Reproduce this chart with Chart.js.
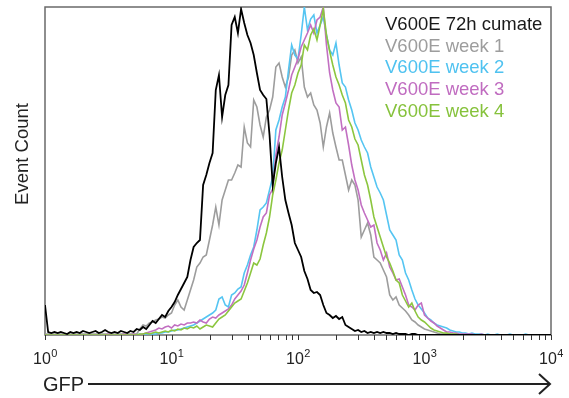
<!DOCTYPE html>
<html>
<head>
<meta charset="utf-8">
<script src="https://cdn.jsdelivr.net/npm/chart.js@4/dist/chart.umd.min.js"></script>
<style>
  html, body { margin: 0; padding: 0; background: #ffffff; }
  #wrap { width: 569px; height: 398px; }
</style>
</head>
<body>
<div id="wrap"><canvas id="c" width="569" height="398"></canvas></div>
<script>
// Histogram bins: log10(GFP) of first bin and bin width (in decades)
const binStartLog = 0;
const binWidthLog = 0.025;

const seriesNames = ['V600E 72h cumate', 'V600E week 1', 'V600E week 2', 'V600E week 3', 'V600E week 4'];
const seriesColors = ['#000000', '#9d9d9d', '#55c5f2', '#c26fc2', '#8cc63f'];
const legendColors = ['#1a1a1a', '#9d9d9d', '#4fc2f0', '#c06cc0', '#86c23c'];

const cumate72h = [
  30,3,2,3,2,3,2,1,3,2,
  3,2,4,3,2,3,4,2,3,5,
  3,2,3,2,4,3,2,4,3,6,
  5,8,6,10,14,12,16,20,18,24,
  28,33,40,46,52,58,75,88,92,95,
  150,160,172,182,245,260,218,240,250,310,
  318,302,326,312,300,292,280,262,245,240,
  236,200,150,172,188,158,135,122,110,92,
  85,78,64,56,45,42,43,40,30,22,
  20,17,19,16,18,10,8,6,4,5,
  3,4,2,3,2,3,2,3,2,2,
  1,2,1,1,1,0,1,1,0,0,
  0,0,0,0,0,0,0,0,0,0,
  0,0,0,0,0,0,0,0,0,0,
  0,0,0,0,0,0,0,0,0,0,
  0,0,0,0,0,0,0,0,0,0,
  0
];
const week1 = [
  1,1,1,1,1,1,1,1,1,1,
  1,1,1,1,1,1,1,1,1,1,
  1,1,1,1,1,1,1,1,1,1,
  6,10,9,12,13,15,16,18,17,20,
  22,30,35,28,25,35,45,55,68,72,
  78,80,95,110,128,110,135,145,155,155,
  162,170,168,208,192,188,235,228,210,198,
  218,225,238,268,272,258,248,258,280,285,
  272,278,248,238,242,230,225,212,188,208,
  222,202,188,175,175,160,145,155,150,135,
  98,105,112,100,78,75,72,65,58,40,
  35,38,30,27,24,20,15,13,10,8,
  6,5,4,3,2,1,1,1,1,0,
  0,0,0,0,0,0,0,0,0,0,
  0,0,0,0,0,0,0,0,0,0,
  0,0,0,0,0,0,0,0,0,0,
  0
];
const week2 = [
  0,0,0,0,0,0,0,0,0,0,
  0,0,0,0,0,0,0,0,0,0,
  0,0,0,0,0,0,0,0,0,0,
  1,0,1,1,1,1,2,2,3,3,
  4,5,5,6,7,8,9,10,12,14,
  16,18,20,22,25,36,38,30,28,40,
  42,46,48,62,70,80,88,105,125,128,
  132,145,158,205,215,228,238,265,290,280,
  276,300,328,305,316,320,302,310,318,300,
  285,280,292,270,252,248,235,225,212,205,
  195,188,182,168,158,148,142,135,120,105,
  100,95,80,75,62,55,45,36,30,26,
  22,17,15,12,10,9,8,7,5,4,
  3,3,2,2,1,2,1,1,1,0,
  1,0,0,1,0,0,0,1,0,0,
  0,0,1,0,0,0,0,0,0,0,
  0
];
const week3 = [
  0,0,0,0,0,0,0,0,0,0,
  0,0,0,0,0,0,0,0,0,0,
  1,0,0,0,0,1,0,0,1,0,
  0,1,2,3,4,5,7,6,8,9,
  7,10,9,11,10,12,12,13,12,15,
  13,12,16,18,17,20,22,24,26,30,
  36,40,44,50,62,75,86,95,108,118,
  122,140,146,180,198,220,232,245,260,268,
  276,288,295,302,310,302,315,318,328,290,
  262,245,232,228,205,208,190,170,155,145,
  130,122,115,108,110,92,85,75,82,68,
  62,55,56,48,40,30,28,25,30,32,
  20,17,14,12,9,7,5,3,3,2,
  2,1,1,1,1,1,0,0,1,0,
  0,0,0,0,0,0,0,0,0,0,
  0,0,0,0,0,0,0,0,0,0,
  0
];
const week4 = [
  0,0,0,0,0,0,0,0,0,0,
  0,0,0,0,0,0,0,0,0,0,
  0,0,0,0,0,0,0,0,0,0,
  1,1,2,1,2,3,2,3,4,3,
  5,4,6,5,7,6,8,7,9,6,
  8,10,9,8,12,16,18,20,24,28,
  32,34,36,44,52,62,72,70,76,90,
  102,118,140,155,172,185,205,225,242,250,
  262,270,290,285,300,306,295,310,326,300,
  284,270,258,250,240,232,215,208,196,190,
  175,160,150,135,118,108,98,88,78,72,
  64,55,52,40,34,28,32,24,18,15,
  13,10,7,5,4,3,2,2,1,1,
  1,0,0,0,0,0,0,0,0,0,
  0,0,0,0,0,0,0,0,0,0,
  0,0,0,0,0,0,0,0,0,0,
  0
];
const seriesCounts = [cumate72h, week1, week2, week3, week4];
const drawOrder = [0, 4, 3, 2, 1]; // lower = drawn on top

const majorTicks = [1, 10, 100, 1000, 10000];
const majorTickExponents = ['0', '1', '2', '3', '4'];
const minorTicks = [2,3,4,5,6,7,8,9, 20,30,40,50,60,70,80,90, 200,300,400,500,600,700,800,900, 2000,3000,4000,5000,6000,7000,8000,9000];
const xAxisTitle = 'GFP';
const yAxisTitle = 'Event Count';

const FONT = '"Liberation Sans", Arial, Helvetica, sans-serif';

const datasets = seriesCounts.map((counts, s) => ({
  label: seriesNames[s],
  data: counts.map((c, i) => ({ x: Math.pow(10, binStartLog + i * binWidthLog), y: c })),
  borderColor: seriesColors[s],
  borderWidth: s === 0 ? 1.8 : 1.6,
  pointRadius: 0,
  tension: 0,
  fill: false,
  order: drawOrder[s]
}));

const decorations = {
  id: 'decorations',
  beforeDatasetsDraw(chart) {
    const { ctx, chartArea: a } = chart;
    ctx.save();
    ctx.strokeStyle = '#6a6a6a';
    ctx.lineWidth = 1.5;
    ctx.strokeRect(a.left, a.top, a.right - a.left, a.bottom - a.top);
    ctx.restore();
  },
  afterDraw(chart) {
    const { ctx, chartArea: a } = chart;
    const x = chart.scales.x;
    ctx.save();
    // tick marks
    ctx.strokeStyle = '#333333';
    ctx.lineWidth = 1;
    majorTicks.concat(minorTicks).forEach(v => {
      const px = Math.round(x.getPixelForValue(v)) + 0.5;
      ctx.beginPath();
      ctx.moveTo(px, a.bottom);
      ctx.lineTo(px, a.bottom + 5);
      ctx.stroke();
    });
    // tick labels 10^n
    ctx.fillStyle = '#222222';
    ctx.textBaseline = 'alphabetic';
    ctx.textAlign = 'left';
    majorTicks.forEach((v, i) => {
      const px = x.getPixelForValue(v);
      ctx.font = '16px ' + FONT;
      const wBase = ctx.measureText('10').width;
      ctx.font = '11px ' + FONT;
      const wSup = ctx.measureText(majorTickExponents[i]).width;
      const start = px - (wBase + wSup) / 2;
      ctx.font = '16px ' + FONT;
      ctx.fillText('10', start, 364);
      ctx.font = '11px ' + FONT;
      ctx.fillText(majorTickExponents[i], start + wBase + 0.5, 357);
    });
    // x-axis title with arrow
    ctx.font = '20px ' + FONT;
    ctx.fillText(xAxisTitle, 43, 391);
    ctx.strokeStyle = '#222222';
    ctx.lineWidth = 2;
    ctx.beginPath();
    ctx.moveTo(88, 384);
    ctx.lineTo(550, 384);
    ctx.stroke();
    ctx.beginPath();
    ctx.moveTo(539, 374);
    ctx.lineTo(550, 384);
    ctx.lineTo(539, 394);
    ctx.stroke();
    // y-axis title
    ctx.save();
    ctx.translate(28, 154);
    ctx.rotate(-Math.PI / 2);
    ctx.textAlign = 'center';
    ctx.font = '18.5px ' + FONT;
    ctx.fillText(yAxisTitle, 0, 0);
    ctx.restore();
    // legend
    ctx.font = '18.5px ' + FONT;
    ctx.textAlign = 'left';
    seriesNames.forEach((name, i) => {
      ctx.fillStyle = legendColors[i];
      ctx.fillText(name, 385, 30 + i * 21.7);
    });
    ctx.restore();
  }
};

new Chart(document.getElementById('c'), {
  type: 'line',
  data: { datasets },
  options: {
    responsive: false,
    animation: false,
    devicePixelRatio: 1,
    layout: { padding: { left: 45, right: 18, top: 7, bottom: 63 } },
    plugins: { legend: { display: false }, tooltip: { enabled: false } },
    scales: {
      x: { type: 'logarithmic', display: false, min: 1, max: 10000 },
      y: { type: 'linear', display: false, min: 0, max: 328 }
    }
  },
  plugins: [decorations]
});
</script>
</body>
</html>
